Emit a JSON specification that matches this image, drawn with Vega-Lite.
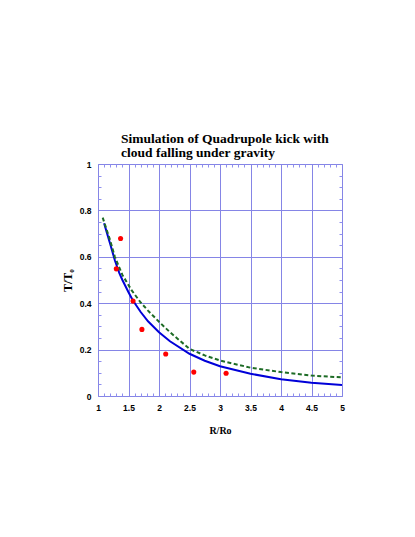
{
  "$schema": "https://vega.github.io/schema/vega-lite/v6.json",
  "autosize": "none",
  "width": 244,
  "height": 232,
  "padding": {"left": 98, "top": 164, "right": 73, "bottom": 141},
  "background": "white",
  "title": {
    "text": ["Simulation of Quadrupole kick with", "cloud falling under gravity"],
    "anchor": "start",
    "frame": "group",
    "dx": 23,
    "offset": 1,
    "font": "Liberation Serif",
    "fontSize": 13.5,
    "fontWeight": "bold",
    "lineHeight": 14,
    "color": "black"
  },
  "config": {
    "view": {"stroke": "#8f8fee", "strokeWidth": 1},
    "axis": {
      "domain": false,
      "labelFont": "Liberation Sans",
      "labelFontWeight": "bold",
      "labelFontSize": 8.5,
      "labelColor": "black",
      "titleFont": "Liberation Serif",
      "titleFontWeight": "bold",
      "titleColor": "black",
      "gridColor": "#8585e6",
      "gridOpacity": 1,
      "tickColor": "#8f8fee"
    }
  },
  "datasets": {
    "sim": [
      {"R": 1.10, "T": 0.745},
      {"R": 1.15, "T": 0.700},
      {"R": 1.20, "T": 0.655},
      {"R": 1.276, "T": 0.585},
      {"R": 1.35, "T": 0.530},
      {"R": 1.40, "T": 0.500},
      {"R": 1.50, "T": 0.447},
      {"R": 1.57, "T": 0.413},
      {"R": 1.70, "T": 0.362},
      {"R": 1.82, "T": 0.322},
      {"R": 2.00, "T": 0.275},
      {"R": 2.18, "T": 0.236},
      {"R": 2.50, "T": 0.182},
      {"R": 2.75, "T": 0.152},
      {"R": 3.00, "T": 0.128},
      {"R": 3.50, "T": 0.096},
      {"R": 4.00, "T": 0.072},
      {"R": 4.50, "T": 0.057},
      {"R": 5.00, "T": 0.047}
    ],
    "sim2": [
      {"R": 1.077, "T": 0.769},
      {"R": 1.15, "T": 0.710},
      {"R": 1.20, "T": 0.670},
      {"R": 1.276, "T": 0.600},
      {"R": 1.40, "T": 0.522},
      {"R": 1.55, "T": 0.456},
      {"R": 1.70, "T": 0.403},
      {"R": 1.82, "T": 0.368},
      {"R": 2.00, "T": 0.320},
      {"R": 2.18, "T": 0.275},
      {"R": 2.50, "T": 0.203},
      {"R": 2.75, "T": 0.175},
      {"R": 3.00, "T": 0.153},
      {"R": 3.50, "T": 0.122},
      {"R": 4.00, "T": 0.103},
      {"R": 4.50, "T": 0.088},
      {"R": 5.00, "T": 0.080}
    ],
    "obs": [
      {"R": 1.30, "T": 0.548},
      {"R": 1.37, "T": 0.679},
      {"R": 1.575, "T": 0.409},
      {"R": 1.72, "T": 0.287},
      {"R": 2.11, "T": 0.181},
      {"R": 2.57, "T": 0.103},
      {"R": 3.10, "T": 0.098}
    ]
  },
  "resolve": {
    "scale": {"x": "shared", "y": "shared"},
    "axis": {"x": "independent", "y": "independent"}
  },
  "layer": [
    {
      "data": {"name": "sim"},
      "mark": {"type": "line", "color": "#0000d8", "strokeWidth": 2, "clip": true},
      "encoding": {
        "x": {
          "field": "R", "type": "quantitative",
          "scale": {"domain": [1, 5], "nice": false, "zero": false},
          "axis": {
            "orient": "bottom",
            "title": "R/Ro",
            "titleFontSize": 10,
            "titleY": 37,
            "titleBaseline": "alphabetic",
            "values": [1, 1.5, 2, 2.5, 3, 3.5, 4, 4.5, 5],
            "format": "~g",
            "grid": true,
            "ticks": false,
            "labelPadding": 7,
            "labelFlush": false
          }
        },
        "y": {
          "field": "T", "type": "quantitative",
          "scale": {"domain": [0, 1], "nice": false},
          "axis": {
            "orient": "left",
            "title": "T/T₀",
            "titleFontSize": 12,
            "titleX": -31,
            "titleBaseline": "middle",
            "values": [0, 0.2, 0.4, 0.6, 0.8, 1],
            "format": "~g",
            "grid": true,
            "ticks": false,
            "labelPadding": 7,
            "labelFlush": false
          }
        }
      }
    },
    {
      "data": {"name": "sim2"},
      "mark": {"type": "line", "color": "#1d6b25", "strokeWidth": 2, "strokeDash": [4, 2.5], "clip": true},
      "encoding": {
        "x": {
          "field": "R", "type": "quantitative",
          "axis": {
            "orient": "top", "title": null, "labels": false, "grid": false,
            "values": [1.1,1.2,1.3,1.4,1.6,1.7,1.8,1.9,2.1,2.2,2.3,2.4,2.6,2.7,2.8,2.9,3.1,3.2,3.3,3.4,3.6,3.7,3.8,3.9,4.1,4.2,4.3,4.4,4.6,4.7,4.8,4.9],
            "ticks": true, "tickSize": -3
          }
        },
        "y": {
          "field": "T", "type": "quantitative",
          "axis": {
            "orient": "right", "title": null, "labels": false, "grid": false,
            "values": [0.05,0.1,0.15,0.25,0.3,0.35,0.45,0.5,0.55,0.65,0.7,0.75,0.85,0.9,0.95],
            "ticks": true, "tickSize": -3
          }
        }
      }
    },
    {
      "data": {"name": "obs"},
      "mark": {"type": "circle", "color": "#ff0000", "opacity": 1, "size": 26},
      "encoding": {
        "x": {
          "field": "R", "type": "quantitative",
          "axis": {
            "orient": "bottom", "title": null, "labels": false, "grid": false,
            "values": [1.1,1.2,1.3,1.4,1.6,1.7,1.8,1.9,2.1,2.2,2.3,2.4,2.6,2.7,2.8,2.9,3.1,3.2,3.3,3.4,3.6,3.7,3.8,3.9,4.1,4.2,4.3,4.4,4.6,4.7,4.8,4.9],
            "ticks": true, "tickSize": -3
          }
        },
        "y": {
          "field": "T", "type": "quantitative",
          "axis": {
            "orient": "left", "title": null, "labels": false, "grid": false,
            "values": [0.05,0.1,0.15,0.25,0.3,0.35,0.45,0.5,0.55,0.65,0.7,0.75,0.85,0.9,0.95],
            "ticks": true, "tickSize": -3
          }
        }
      }
    }
  ]
}
